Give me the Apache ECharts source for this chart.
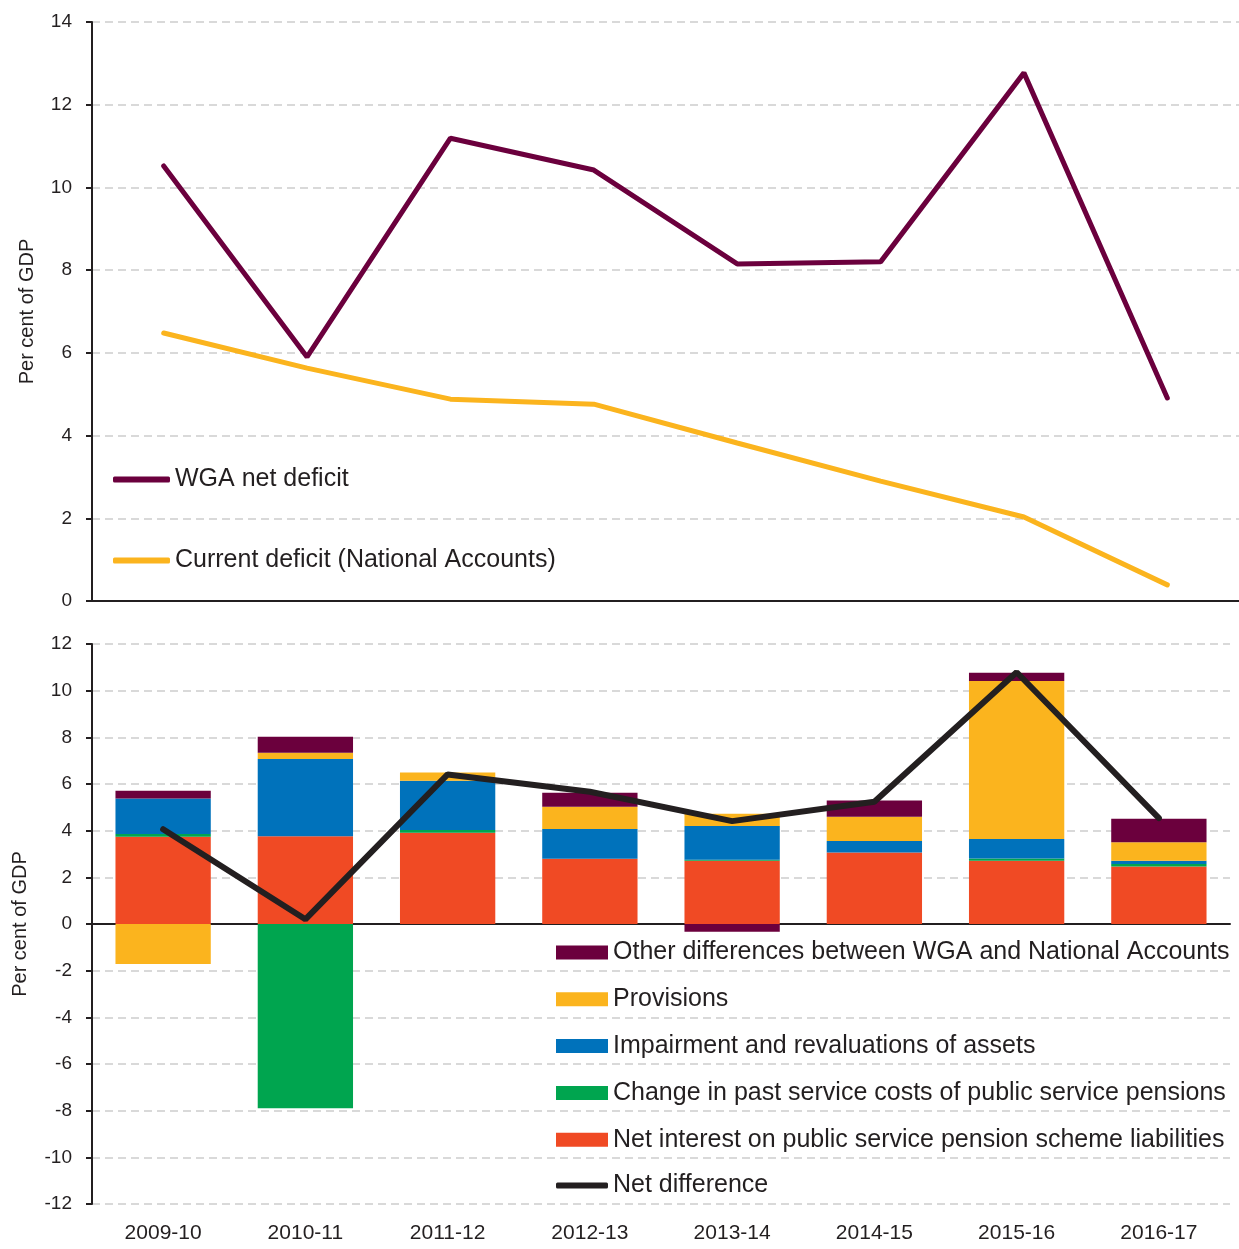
<!DOCTYPE html>
<html>
<head>
<meta charset="utf-8">
<script src="https://cdn.jsdelivr.net/npm/echarts@6/dist/echarts.min.js"></script>
<style>
  html, body { margin: 0; padding: 0; background: #fff; }
  #chart { width: 1239px; height: 1249px; }
</style>
</head>
<body>
<div id="chart"></div>
<script>
  // categories / years
  var years = ['2009-10', '2010-11', '2011-12', '2012-13', '2013-14', '2014-15', '2015-16', '2016-17'];

  // top panel
  var wgaDeficit = [10.52, 5.9, 11.19, 10.42, 8.15, 8.2, 12.77, 4.91];
  var currentDeficit = [6.48, 5.63, 4.88, 4.76, 3.82, 2.9, 2.03, 0.39];

  // bottom panel
  var netInterest = [3.74, 3.76, 3.91, 2.8, 2.71, 3.06, 2.71, 2.46];
  var pastService = [0.12, -7.9, 0.12, 0, 0.04, 0, 0.1, 0.11];
  var impairment = [1.52, 3.31, 2.11, 1.27, 1.45, 0.5, 0.83, 0.14];
  var provisions = [-1.71, 0.27, 0.35, 0.96, 0.53, 1.04, 6.77, 0.79];
  var otherDiff = [0.33, 0.69, 0, 0.6, -0.33, 0.69, 0.36, 1.01];
  var netDifference = [4.06, 0.2, 6.41, 5.67, 4.41, 5.24, 10.79, 4.54];

  var dark = '#231f20';
  var font = "'Liberation Sans', Arial, sans-serif";

  var splitLine = {
    show: true,
    lineStyle: { color: '#d9d9d9', width: 2, type: [8, 5] }
  };

  var legendText = { fontSize: 25, color: dark, fontFamily: font, lineHeight: 25 };

  var mChart = echarts.init(document.getElementById('chart'));

  var options = {
    animation: false,
    textStyle: { fontFamily: font, color: dark },
    grid: [
      { left: 92, right: -1, top: 22, height: 579 },
      { left: 92, right: 9, top: 644, height: 560 }
    ],
    legend: [
      {
        // 上图图例
        orient: 'vertical',
        left: 113,
        top: 467,
        padding: 0,
        itemWidth: 57,
        itemHeight: 6,
        itemGap: 56,
        textStyle: legendText,
        data: [
          { name: 'WGA net deficit', icon: 'roundRect' },
          { name: 'Current deficit (National Accounts)', icon: 'roundRect' }
        ]
      },
      {
        // 下图图例 (柱)
        orient: 'vertical',
        left: 556,
        top: 940,
        padding: 0,
        itemWidth: 52,
        itemHeight: 14,
        itemGap: 21.8,
        textStyle: legendText,
        data: [
          { name: 'Other differences between WGA and National Accounts', icon: 'rect' },
          { name: 'Provisions', icon: 'rect' },
          { name: 'Impairment and revaluations of assets', icon: 'rect' },
          { name: 'Change in past service costs of public service pensions', icon: 'rect' },
          { name: 'Net interest on public service pension scheme liabilities', icon: 'rect' }
        ]
      },
      {
        // 下图图例 (线)
        orient: 'vertical',
        left: 556,
        top: 1173,
        padding: 0,
        itemWidth: 52,
        itemHeight: 6,
        textStyle: legendText,
        data: [{ name: 'Net difference', icon: 'roundRect' }]
      }
    ],
    xAxis: [
      {
        type: 'category',
        gridIndex: 0,
        data: years,
        axisLine: { lineStyle: { color: dark, width: 2 } },
        axisTick: { length: 7, lineStyle: { color: dark, width: 2 } },
        axisLabel: { show: false },
        splitLine: { show: false }
      },
      {
        // 零线和刻度
        type: 'category',
        gridIndex: 1,
        data: years,
        axisLine: { onZero: true, lineStyle: { color: dark, width: 2 } },
        axisTick: { length: 7, lineStyle: { color: dark, width: 2 } },
        axisLabel: { show: false },
        splitLine: { show: false }
      },
      {
        // 底部标签
        type: 'category',
        gridIndex: 1,
        position: 'bottom',
        data: years,
        axisLine: { show: false, onZero: false },
        axisTick: { show: false },
        axisLabel: { fontSize: 21, color: dark, margin: 19, fontFamily: font },
        splitLine: { show: false }
      }
    ],
    yAxis: [
      {
        type: 'value',
        gridIndex: 0,
        min: 0,
        max: 14,
        interval: 2,
        name: 'Per cent of GDP',
        nameLocation: 'middle',
        nameGap: 55,
        nameTextStyle: { fontSize: 20, color: dark, fontFamily: font },
        axisLine: { show: true, lineStyle: { color: dark, width: 2 } },
        axisTick: { show: true, length: 6, lineStyle: { color: dark, width: 2 } },
        axisLabel: { fontSize: 19, color: dark, margin: 20, fontFamily: font },
        splitLine: splitLine
      },
      {
        type: 'value',
        gridIndex: 1,
        min: -12,
        max: 12,
        interval: 2,
        name: 'Per cent of GDP',
        nameLocation: 'middle',
        nameGap: 62,
        nameTextStyle: { fontSize: 20, color: dark, fontFamily: font },
        axisLine: { show: true, lineStyle: { color: dark, width: 2 } },
        axisTick: { show: true, length: 6, lineStyle: { color: dark, width: 2 } },
        axisLabel: { fontSize: 19, color: dark, margin: 20, fontFamily: font },
        splitLine: splitLine
      }
    ],
    series: [
      {
        type: 'line',
        name: 'WGA net deficit',
        xAxisIndex: 0,
        yAxisIndex: 0,
        data: wgaDeficit,
        symbol: 'none',
        lineStyle: { color: '#6b003d', width: 5, cap: 'round' },
        itemStyle: { color: '#6b003d' }
      },
      {
        type: 'line',
        name: 'Current deficit (National Accounts)',
        xAxisIndex: 0,
        yAxisIndex: 0,
        data: currentDeficit,
        symbol: 'none',
        lineStyle: { color: '#fbb41e', width: 5, cap: 'round' },
        itemStyle: { color: '#fbb41e' }
      },
      {
        type: 'bar',
        name: 'Net interest on public service pension scheme liabilities',
        xAxisIndex: 1,
        yAxisIndex: 1,
        stack: 'diff',
        barWidth: '67%',
        data: netInterest,
        itemStyle: { color: '#f04a24' }
      },
      {
        type: 'bar',
        name: 'Change in past service costs of public service pensions',
        xAxisIndex: 1,
        yAxisIndex: 1,
        stack: 'diff',
        data: pastService,
        itemStyle: { color: '#00a54f' }
      },
      {
        type: 'bar',
        name: 'Impairment and revaluations of assets',
        xAxisIndex: 1,
        yAxisIndex: 1,
        stack: 'diff',
        data: impairment,
        itemStyle: { color: '#0072bb' }
      },
      {
        type: 'bar',
        name: 'Provisions',
        xAxisIndex: 1,
        yAxisIndex: 1,
        stack: 'diff',
        data: provisions,
        itemStyle: { color: '#fbb41e' }
      },
      {
        type: 'bar',
        name: 'Other differences between WGA and National Accounts',
        xAxisIndex: 1,
        yAxisIndex: 1,
        stack: 'diff',
        data: otherDiff,
        itemStyle: { color: '#6b003d' }
      },
      {
        type: 'line',
        name: 'Net difference',
        xAxisIndex: 1,
        yAxisIndex: 1,
        data: netDifference,
        symbol: 'none',
        z: 5,
        lineStyle: { color: dark, width: 6, cap: 'round' },
        itemStyle: { color: dark }
      }
    ]
  };

  mChart.setOption(options);
</script>
</body>
</html>
